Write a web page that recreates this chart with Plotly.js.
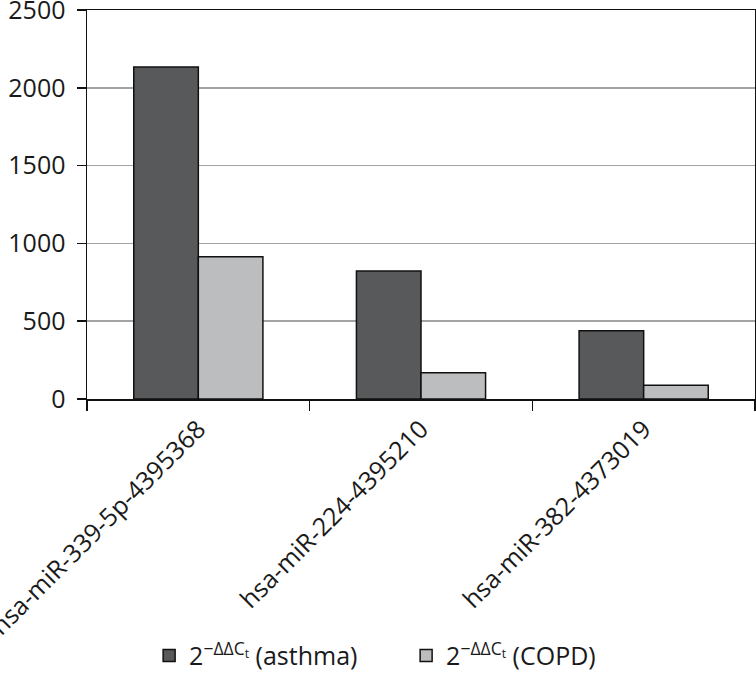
<!DOCTYPE html>
<html>
<head>
<meta charset="utf-8">
<script src="https://cdn.plot.ly/plotly-3.0.1.min.js"></script>
<style>html,body{margin:0;padding:0;background:#fff;}#chart{width:756px;height:679px;}</style>
</head>
<body>
<div id="chart"></div>
<script>
var categories = ["hsa-miR-339-5p-4395368", "hsa-miR-224-4395210", "hsa-miR-382-4373019"];
var asthmaValues = [2134, 822, 438];
var copdValues = [914, 168, 89];
var seriesNames = ["2<sup>−ΔΔC<sub>t</sub></sup> (asthma)", "2<sup>−ΔΔC<sub>t</sub></sup> (COPD)"];
var yTicks = [0, 500, 1000, 1500, 2000, 2500];

var font = "Open Sans, Noto Sans, sans-serif";
var traces = [
  {type: "bar", name: seriesNames[0], x: categories, y: asthmaValues,
   marker: {color: "#58595b", line: {color: "#111", width: 1.5}}},
  {type: "bar", name: seriesNames[1], x: categories, y: copdValues,
   marker: {color: "#bcbdbf", line: {color: "#111", width: 1.5}}}
];
var layout = {
  width: 756, height: 679,
  margin: {l: 87, r: 1, t: 10, b: 277, pad: 0},
  paper_bgcolor: "#fff", plot_bgcolor: "#fff",
  font: {family: font, size: 25, color: "#1a1a1a"},
  barmode: "group", bargap: 0.42, bargroupgap: 0,
  showlegend: true,
  legend: {orientation: "h", x: 0.093, xanchor: "left", y: -0.66, yanchor: "middle",
           font: {family: font, size: 25, color: "#1a1a1a"}, entrywidth: 212, entrywidthmode: "pixels",
           bgcolor: "rgba(0,0,0,0)", traceorder: "normal"},
  xaxis: {type: "category", showline: true, linecolor: "#111", linewidth: 1.5, mirror: true,
          ticks: "outside", tickson: "boundaries", ticklen: 10, tickcolor: "#111", tickwidth: 1.5,
          tickangle: -45, showgrid: false, ticklabelstandoff: 4,
          tickfont: {family: font, size: 25, color: "#1a1a1a"}},
  yaxis: {range: [0, 2500], tickvals: yTicks, ticktext: yTicks.map(String), showline: true, linecolor: "#111", linewidth: 1.5,
          mirror: true, ticks: "outside", ticklen: 9, tickcolor: "#111", tickwidth: 1.5,
          showgrid: true, gridcolor: "#a3a3a3", gridwidth: 1.5, zeroline: false,
          ticklabeloverflow: "allow", ticklabelstandoff: 6,
          tickfont: {family: font, size: 25, color: "#1a1a1a"}}
};
Plotly.newPlot("chart", traces, layout, {displayModeBar: false, staticPlot: true});
</script>
</body>
</html>
